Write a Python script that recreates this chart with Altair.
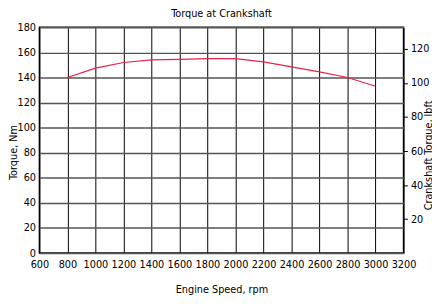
import altair as alt
import pandas as pd

rpm = [800, 1000, 1200, 1400, 1600, 1800, 2000, 2200, 2400, 2600, 2800, 3000]
torque_nm = [140, 147.5, 152, 154, 154.5, 155, 155, 152.5, 148.5, 144.5, 140, 133]

x_ticks = list(range(600, 3201, 200))
y_ticks = list(range(0, 181, 20))
lbft_ticks = [20, 40, 60, 80, 100, 120]

NM_PER_LBFT = 1.35582
FONT = "DejaVu Sans Condensed, Liberation Sans, sans-serif"

df = pd.DataFrame({"rpm": rpm, "nm": torque_nm})
df["lbft"] = df["nm"] / NM_PER_LBFT

x_enc = alt.X(
    "rpm:Q",
    scale=alt.Scale(domain=[600, 3200], nice=False, zero=False),
    axis=alt.Axis(
        values=x_ticks, format="d", title="Engine Speed, rpm", grid=True,
        gridColor="#000000", gridOpacity=1, gridWidth=1, domain=False, ticks=False,
        labelPadding=6, labelFontSize=11, titleFontSize=11, titleFontWeight="normal",
        titleY=37, titleBaseline="middle", labelFlush=False,
    ),
)

line = alt.Chart(df).mark_line(color="#e3234b", strokeWidth=1.2).encode(
    x=x_enc,
    y=alt.Y(
        "nm:Q",
        scale=alt.Scale(domain=[0, 180], nice=False),
        axis=alt.Axis(
            values=y_ticks, title="Torque, Nm", grid=True, gridColor="#555555",
            gridOpacity=1, gridWidth=1.5, domain=False, ticks=False, labelPadding=4,
            labelFontSize=11, titleFontSize=11, titleFontWeight="normal",
            titleX=-26, titleY=127, titleAngle=270, titleBaseline="middle",
            labelFlush=False,
        ),
    ),
)

right = alt.Chart(df).mark_line(opacity=0).encode(
    x=x_enc,
    y=alt.Y(
        "lbft:Q",
        scale=alt.Scale(domain=[0, 180 / NM_PER_LBFT], nice=False),
        axis=alt.Axis(
            orient="right", values=lbft_ticks, title="Crankshaft Torque, lbft",
            grid=False, domain=False, ticks=True, tickSize=4, tickColor="#000000",
            labelPadding=3, labelFontSize=11, titleFontSize=11, titleFontWeight="normal",
            titleX=26, titleY=130, titleAngle=270, titleBaseline="middle",
        ),
    ),
)

chart = (
    alt.layer(line, right)
    .resolve_scale(y="independent")
    .properties(
        width=371, height=230,
        title=alt.TitleParams("Torque at Crankshaft", fontSize=11, fontWeight="normal",
                              font=FONT, anchor="middle", offset=3),
        autosize=alt.AutoSizeParams(type="none"),
        padding={"left": 32, "top": 17, "right": 29, "bottom": 41},
    )
    .configure(font=FONT)
    .configure_axis(labelFont=FONT, titleFont=FONT, labelColor="#000000", titleColor="#000000")
    .configure_view(stroke="#000000", strokeWidth=1.5)
    .configure_title(color="#000000")
)

chart.save("out.html", embed_options={"renderer": "svg", "actions": False})
